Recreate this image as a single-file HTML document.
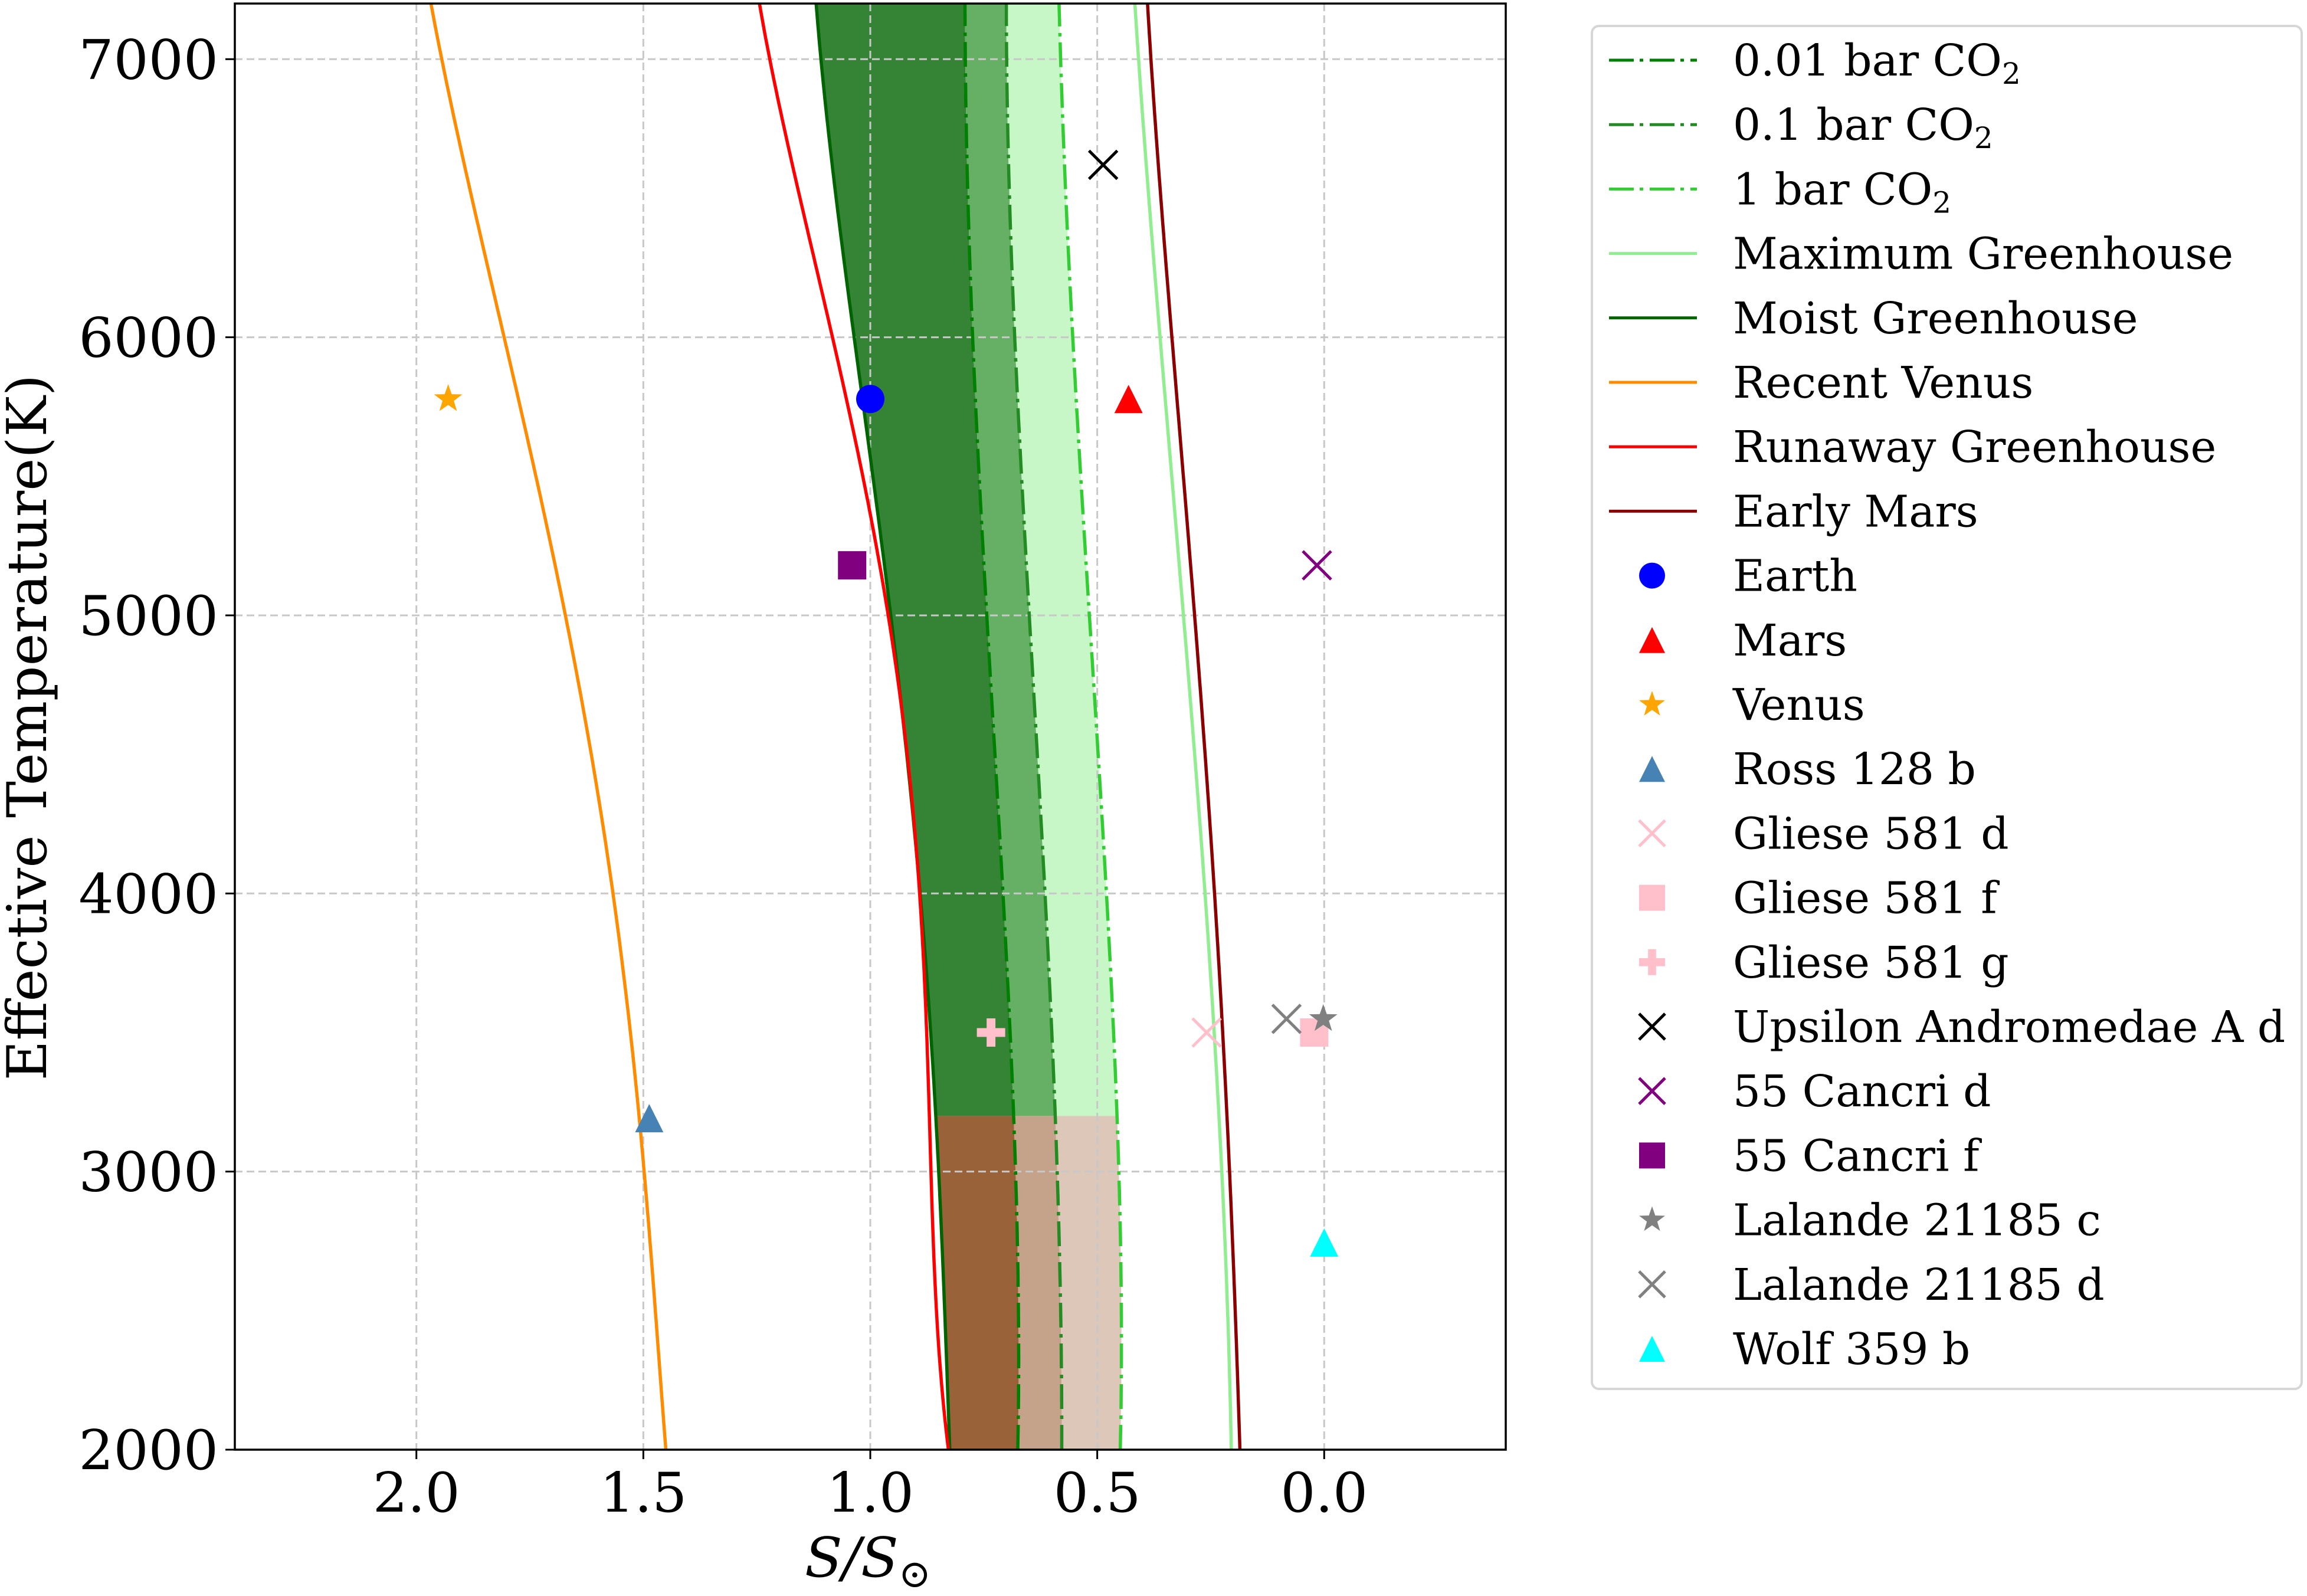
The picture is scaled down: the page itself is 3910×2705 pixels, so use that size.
<!DOCTYPE html>
<html><head><meta charset="utf-8"><style>
html,body{margin:0;padding:0;background:#fff;}
svg text{font-family:"DejaVu Serif","Liberation Serif",serif;}
</style></head><body>
<svg id="chart" width="3910" height="2700" viewBox="0 0 3910 2700" xmlns="http://www.w3.org/2000/svg">
<g id="fills"></g>
<g id="grid"></g>
<g id="lines"></g>
<g id="markers"></g>
<rect x="398" y="6" width="2154" height="2451" fill="none" stroke="#000" stroke-width="3.5"/>
<g id="ticks"></g>
<text x="78" y="1233" font-size="93" text-anchor="middle" transform="rotate(-90 78 1233)">Effective Temperature(K)</text>
<text x="1471" y="2672" font-size="93" text-anchor="middle" font-style="italic">S/S<tspan font-size="66" dy="18" font-style="normal">⊙</tspan></text>
<g id="legend"></g>
</svg>
<script>
// ---- data ----
const tempGrid = [2000, 3000, 4000, 4500, 5000, 5500, 6000, 6500, 7000, 7200];
const recentVenus = [1.45, 1.50, 1.564, 1.615, 1.672, 1.738, 1.808, 1.876, 1.942, 1.97];
const runawayGreenhouse = [0.828, 0.866, 0.890, 0.922, 0.961, 1.012, 1.085, 1.156, 1.221, 1.244];
const moistGreenhouse = [0.824, 0.853, 0.884, 0.920, 0.957, 0.998, 1.035, 1.072, 1.108, 1.121];
const co2_001 = [0.675, 0.680, 0.708, 0.725, 0.743, 0.760, 0.776, 0.784, 0.790, 0.792];
const co2_01 = [0.578, 0.589, 0.614, 0.632, 0.650, 0.667, 0.683, 0.692, 0.699, 0.701];
const co2_1 = [0.449, 0.454, 0.477, 0.498, 0.519, 0.537, 0.554, 0.568, 0.580, 0.585];
const maxGreenhouse = [0.205, 0.224, 0.265, 0.286, 0.308, 0.335, 0.362, 0.387, 0.41, 0.416];
const earlyMars = [0.186, 0.207, 0.244, 0.263, 0.283, 0.31, 0.336, 0.36, 0.383, 0.388];
const brownCutoff = 3200;
const planetNames = ["Earth","Mars","Venus","Ross 128 b","Gliese 581 d","Gliese 581 f","Gliese 581 g","Upsilon Andromedae A d","55 Cancri d","55 Cancri f","Lalande 21185 c","Lalande 21185 d","Wolf 359 b"];
const planetS = [1.0, 0.431, 1.93, 1.487, 0.259, 0.022, 0.734, 0.487, 0.016, 1.04, 0.002, 0.083, 0.0];
const planetT = [5778, 5778, 5778, 3192, 3500, 3500, 3500, 6620, 5180, 5180, 3549, 3549, 2745];
const planetMarker = ["circle","tri","star","tri","x","square","plus","x","x","square","star","x","tri"];
const planetColor = ["#0000ff","#ff0000","#ffa500","#4682b4","#ffc0cb","#ffc0cb","#ffc0cb","#000000","#800080","#800080","#808080","#808080","#00ffff"];
const xTicks = [2.0, 1.5, 1.0, 0.5, 0.0];
const xTickLabels = ["2.0","1.5","1.0","0.5","0.0"];
const yTicks = [2000, 3000, 4000, 5000, 6000, 7000];
const yTickLabels = ["2000","3000","4000","5000","6000","7000"];

// ---- axes ----
const X0=398, X1=2552, Y0=2457, Y1=6;
const xMin=2.4, xMax=-0.4, tMin=2000, tMax=7200;
const sx = s => X0 + (xMin - s) / (xMin - xMax) * (X1 - X0);
const sy = t => Y0 - (t - tMin) / (tMax - tMin) * (Y0 - Y1);
const NS="http://www.w3.org/2000/svg";
function mk(tag, attrs, parent){const e=document.createElementNS(NS,tag);for(const k in attrs)e.setAttribute(k,attrs[k]);parent.appendChild(e);return e;}

// smooth least-squares polynomial fit (degree 4) of S vs T
const DEG=4;
function fit(arr){
  const n=DEG+1, A=[], b=[];
  for(let i=0;i<n;i++){A.push(new Array(n).fill(0));b.push(0);}
  tempGrid.forEach((t,k)=>{const u=(t-4600)/2600;const p=[];for(let i=0;i<n;i++)p.push(Math.pow(u,i));
    for(let i=0;i<n;i++){b[i]+=p[i]*arr[k];for(let j=0;j<n;j++)A[i][j]+=p[i]*p[j];}});
  for(let i=0;i<n;i++){let m=i;for(let r=i+1;r<n;r++)if(Math.abs(A[r][i])>Math.abs(A[m][i]))m=r;
    [A[i],A[m]]=[A[m],A[i]];[b[i],b[m]]=[b[m],b[i]];
    for(let r=0;r<n;r++){if(r===i)continue;const f=A[r][i]/A[i][i];for(let c=i;c<n;c++)A[r][c]-=f*A[i][c];b[r]-=f*b[i];}}
  const c=b.map((v,i)=>v/A[i][i]);
  return t=>{const u=(t-4600)/2600;let s=0;for(let i=n-1;i>=0;i--)s=s*u+c[i];return s;};
}
function samples(arr,t0,t1,n){const f=fit(arr);const pts=[];for(let k=0;k<=n;k++){const t=t0+(t1-t0)*k/n;pts.push([sx(f(t)),sy(t)]);}return pts;}
const toPts=p=>p.map(q=>q[0].toFixed(1)+","+q[1].toFixed(1)).join(" ");

const defs=mk('defs',{},document.getElementById('chart'));
const cp=mk('clipPath',{id:'plotclip'},defs);
mk('rect',{x:X0,y:Y1,width:X1-X0,height:Y0-Y1},cp);

// fills
const fills=document.getElementById('fills');
fills.setAttribute('clip-path','url(#plotclip)');
function band(a,b,t0,t1,color,name){
  const p=samples(a,t0,t1,100).concat(samples(b,t0,t1,100).reverse());
  const el=mk('polygon',{points:toPts(p),fill:color,stroke:'none'},fills);
  
  
}
band(moistGreenhouse,co2_001,brownCutoff,tMax,'#358435','fill-moist-to-001bar');
band(co2_001,co2_01,brownCutoff,tMax,'#66b066','fill-001-to-01bar');
band(co2_01,co2_1,brownCutoff,tMax,'#c7f6c7','fill-01-to-1bar');
band(moistGreenhouse,co2_001,tMin,brownCutoff,'#9a6238','fill-brown-dark');
band(co2_001,co2_01,tMin,brownCutoff,'#c5a28a','fill-brown-mid');
band(co2_01,co2_1,tMin,brownCutoff,'#dcc7b8','fill-brown-light');

// grid
const grid=document.getElementById('grid');
xTicks.forEach(v=>{const l=mk('line',{x1:sx(v),x2:sx(v),y1:Y1,y2:Y0,stroke:'#c8c8c8','stroke-width':3,'stroke-dasharray':'13 7'},grid);

});
yTicks.forEach(v=>{const l=mk('line',{x1:X0,x2:X1,y1:sy(v),y2:sy(v),stroke:'#c8c8c8','stroke-width':3,'stroke-dasharray':'13 7'},grid);

});

// lines
const lines=document.getElementById('lines');
const DD='42 10 6 11';
const series=[
 [co2_001,'#008000',DD,'line-001bar-co2'],
 [co2_01,'#228b22',DD,'line-01bar-co2'],
 [co2_1,'#32cd32',DD,'line-1bar-co2'],
 [maxGreenhouse,'#90ee90',null,'line-maximum-greenhouse'],
 [moistGreenhouse,'#006400',null,'line-moist-greenhouse'],
 [recentVenus,'#ff8c00',null,'line-recent-venus'],
 [runawayGreenhouse,'#ff0000',null,'line-runaway-greenhouse'],
 [earlyMars,'#8b0000',null,'line-early-mars']];
series.forEach(s=>{
  const a={points:toPts(samples(s[0],tMin,tMax,200)),fill:'none',stroke:s[1],'stroke-width':5.5,'clip-path':'url(#plotclip)'};
  if(s[2]) a['stroke-dasharray']=s[2];
  const el=mk('polyline',a,lines);
  
  
});

// markers
function drawMarker(parent,type,cx,cy,color,r){
  let el;
  if(type==='circle') el=mk('circle',{cx:cx,cy:cy,r:r,fill:color},parent);
  else if(type==='square') el=mk('rect',{x:cx-r,y:cy-r,width:2*r,height:2*r,fill:color},parent);
  else if(type==='tri') el=mk('polygon',{points:`${cx},${cy-r} ${cx+r},${cy+r} ${cx-r},${cy+r}`,fill:color},parent);
  else if(type==='x') el=mk('path',{d:`M${cx-r},${cy-r}L${cx+r},${cy+r}M${cx-r},${cy+r}L${cx+r},${cy-r}`,stroke:color,'stroke-width':5,fill:'none'},parent);
  else if(type==='plus'){const w=r*0.62;el=mk('path',{d:`M${cx-w/2},${cy-r}h${w}v${r-w/2}h${r-w/2}v${w}h${-(r-w/2)}v${r-w/2}h${-w}v${-(r-w/2)}h${-(r-w/2)}v${-w}h${r-w/2}z`,fill:color},parent);}
  else if(type==='star'){let p=[];for(let k=0;k<10;k++){const rr=k%2?r*0.42:r*1.05;const ang=-Math.PI/2+k*Math.PI/5;p.push((cx+rr*Math.cos(ang)).toFixed(1)+','+(cy+rr*Math.sin(ang)).toFixed(1));}el=mk('polygon',{points:p.join(' '),fill:color},parent);}
  return el;
}
const markers=document.getElementById('markers');
planetNames.forEach((n,i)=>{
  const el=drawMarker(markers,planetMarker[i],sx(planetS[i]),sy(planetT[i]),planetColor[i],24);
  
  
});

// ticks
const ticks=document.getElementById('ticks');
xTicks.forEach((v,i)=>{
  mk('line',{x1:sx(v),x2:sx(v),y1:Y0,y2:Y0+16,stroke:'#000','stroke-width':3},ticks);
  const t=mk('text',{x:sx(v),y:Y0+105,'font-size':93,'text-anchor':'middle'},ticks);
  t.textContent=xTickLabels[i];
  
  
});
yTicks.forEach((v,i)=>{
  mk('line',{x1:X0-16,x2:X0,y1:sy(v),y2:sy(v),stroke:'#000','stroke-width':3},ticks);
  const t=mk('text',{x:X0-28,y:sy(v)+33,'font-size':93,'text-anchor':'end'},ticks);
  t.textContent=yTickLabels[i];
  
  
});

// legend
const leg=document.getElementById('legend');
const box=mk('rect',{x:2698,y:44,width:1203,height:2310,rx:12,fill:'#fff',stroke:'#d6d6d6','stroke-width':4},leg);


const legLines=[["0.01 bar CO","2",'#008000',DD],["0.1 bar CO","2",'#228b22',DD],["1 bar CO","2",'#32cd32',DD],
 ["Maximum Greenhouse","",'#90ee90',null],["Moist Greenhouse","",'#006400',null],["Recent Venus","",'#ff8c00',null],
 ["Runaway Greenhouse","",'#ff0000',null],["Early Mars","",'#8b0000',null]];
const ROW=109.2;
let row=0;
legLines.forEach(L=>{
  const y=102+row*ROW;
  const a={x1:2727,x2:2876,y1:y,y2:y,stroke:L[2],'stroke-width':5};
  if(L[3]) a['stroke-dasharray']=L[3];
  const ln=mk('line',a,leg);
  
  
  const t=mk('text',{x:2937,y:y+26,'font-size':74},leg);
  t.textContent=L[0];
  if(L[1]){const s=mk('tspan',{'font-size':50,dy:14},t);s.textContent=L[1];}
  
  
  row++;
});
planetNames.forEach((n,i)=>{
  const y=102+row*ROW;
  const m=drawMarker(leg,planetMarker[i],2800,y,planetColor[i],22);
  
  
  const t=mk('text',{x:2937,y:y+26,'font-size':74},leg);
  t.textContent=n;
  
  
  row++;
});
</script>
</body></html>
